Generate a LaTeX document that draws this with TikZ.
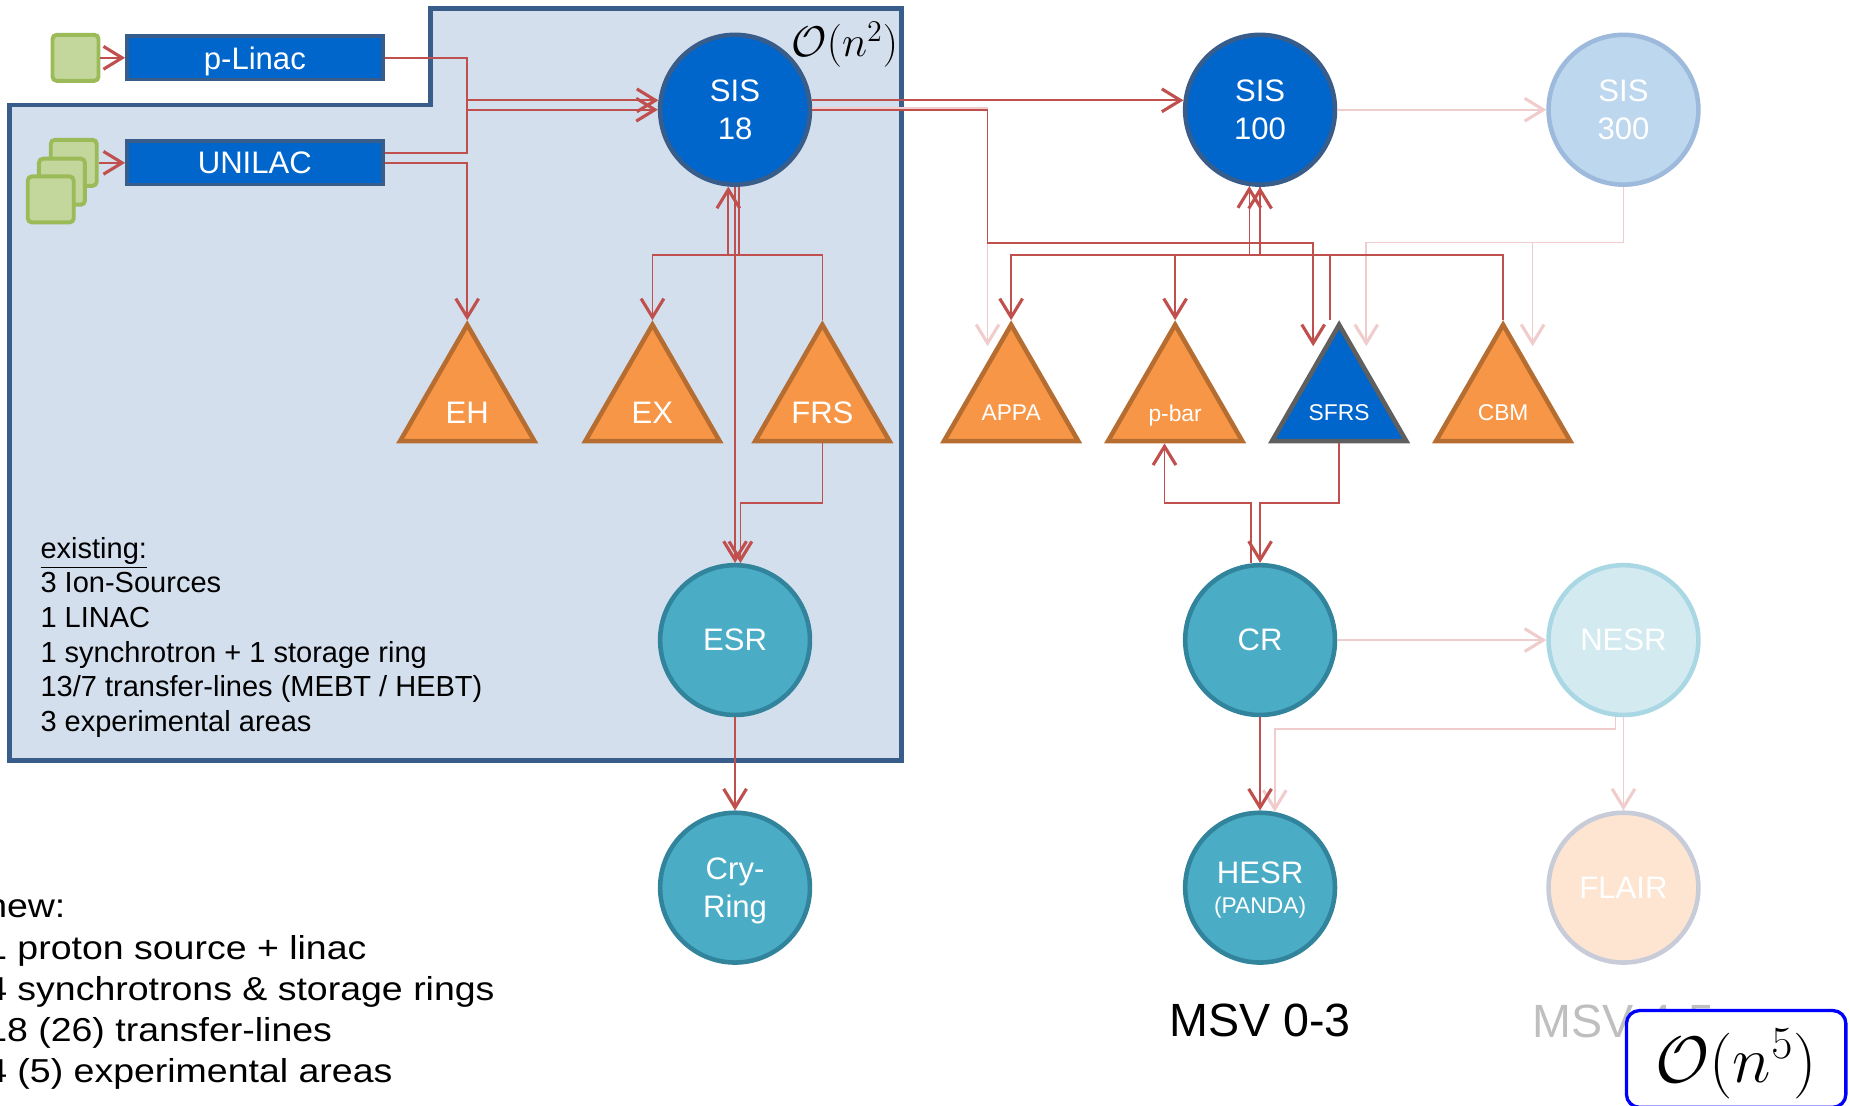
\RequirePackage{fix-cm}
\documentclass[tikz,border=0pt]{standalone}
\usepackage[no-math]{fontspec}
\setmainfont{Liberation Sans}
\newfontfamily\widefont[FakeStretch=1.13]{Liberation Sans}
\usepackage{tikz}
\usetikzlibrary{arrows.meta,shapes.geometric,positioning,calc}

\definecolor{beam}{HTML}{C0504D}
\definecolor{beamnext}{HTML}{F0CDCC}
\definecolor{gsiblue}{HTML}{0066CC}
\definecolor{gsiedge}{HTML}{385D8A}
\definecolor{oldarea}{HTML}{D4DFEE}
\definecolor{storefill}{HTML}{4BACC6}
\definecolor{storeedge}{HTML}{31849B}
\definecolor{expfill}{HTML}{F79646}
\definecolor{expedge}{HTML}{B66D31}
\definecolor{srcfill}{HTML}{C3D69B}
\definecolor{srcedge}{HTML}{9BBB59}
\definecolor{nextblue}{HTML}{BDD7EE}
\definecolor{nextblueedge}{HTML}{9DB9DC}
\definecolor{nextteal}{HTML}{D3EAF1}
\definecolor{nexttealedge}{HTML}{A9D8E4}
\definecolor{nextpeach}{HTML}{FDE5D1}
\definecolor{nextpeachedge}{HTML}{C8CCD9}
\definecolor{sfrsedge}{HTML}{5F5F5F}
\definecolor{msvgrey}{HTML}{BFBFBF}

\newcommand{\ringfont}{\fontsize{15}{18.7}\selectfont}
\newcommand{\tinyfont}{\fontsize{11}{13}\selectfont}

\begin{document}
\begin{tikzpicture}[x=0.02cm, y=-0.02cm,
  >={Straight Barb[length=9pt,width=11pt,line width=1.5pt]},
  every node/.style={font=\ringfont, text=white, align=center},
  ionsrc/.style={rectangle, rounded corners=0.07cm, draw=srcedge, fill=srcfill,
    line width=1.9pt, minimum size=0.78cm, inner sep=0pt},
  linacbox/.style={rectangle, draw=gsiedge, fill=gsiblue, line width=1.7pt,
    minimum width=4.34cm, minimum height=0.74cm, inner sep=0pt, text depth=0pt},
  storering/.style={circle, draw=storeedge, fill=storefill, line width=2.2pt,
    minimum size=2.54cm, inner sep=0pt, text depth=-2.8pt},
  synchro/.style={storering, draw=gsiedge, fill=gsiblue},
  exparea/.style={regular polygon, regular polygon sides=3, minimum size=2.63cm,
    inner sep=0pt, draw=expedge, fill=expfill, line width=2.2pt,
    label={[yshift=-0.18cm, text depth=0pt]center:#1}},
  beamline/.style={draw=beam, line width=0.8pt},
  nextline/.style={draw=beamnext, line width=0.8pt},
  listtext/.style={text=black, align=left, inner sep=0pt, anchor=north west}]
\useasboundingbox (0,0) rectangle (1568,937);
\clip (0,0) rectangle (1568,937);

% existing facility
\draw[draw=gsiedge, fill=oldarea, line width=2.4pt]
  (365,7) -- (764,7) -- (764,644.5) -- (8,644.5) -- (8,89) -- (365,89) -- cycle;

\node[ionsrc] (srcp) at (64,49) {};
\node[ionsrc] (srcA) at (62.5,138) {};
\node[ionsrc] (srcB) at (52.5,154) {};
\node[ionsrc] (srcC) at (43,169) {};
\node[linacbox] (plinac) at (216,49) {p-Linac};
\node[linacbox] (unilac) at (216,138) {UNILAC};

\node[synchro] (sis18) at (623,93) {SIS\\18};
\node[synchro] (sis100) at (1068,93) {SIS\\100};
\node[synchro, draw=nextblueedge, fill=nextblue] (sis300) at (1376,93) {SIS\\300};

\node[exparea=EH] (eh) at (396,341) {};
\node[exparea=EX] (ex) at (553,341) {};
\node[exparea=FRS] (frs) at (697,341) {};
\node[exparea={\tinyfont APPA}] (appa) at (857,341) {};
\node[exparea={\tinyfont p-bar}] (pbar) at (996,341) {};
\node[exparea={\tinyfont SFRS}, draw=sfrsedge, fill=gsiblue] (sfrs) at (1135,341) {};
\node[exparea={\tinyfont CBM}] (cbm) at (1274,341) {};

\node[storering] (esr) at (623,542.5) {ESR};
\node[storering, below=1.58cm of esr] (cryring) {Cry-\\Ring};
\node[storering] (cr) at (1068,542.5) {CR};
\node[storering, below=1.58cm of cr] (hesr) {HESR\\[-4.5pt]{\tinyfont (PANDA)}};
\node[storering, draw=nexttealedge, fill=nextteal] (nesr) at (1376,542.5) {NESR};
\node[storering, draw=nextpeachedge, fill=nextpeach, below=1.58cm of nesr] (flair) {FLAIR};

\node[listtext, font=\fontsize{14}{16.7}\selectfont] (existing) at (34,455)
  {\underline{existing:}\\3 Ion-Sources\\1 LINAC\\1 synchrotron + 1 storage ring\\
   13/7 transfer-lines (MEBT / HEBT)\\3 experimental areas};
\node[listtext, font=\widefont\fontsize{16}{19.85}\selectfont] (newlist) at (-12,762.5)
  {new:\\1 proton source + linac\\4 synchrotrons \& storage rings\\
   18 (26) transfer-lines\\4 (5) experimental areas};

\node[text=black, font=\fontsize{20.7}{25}\selectfont] (costold) at (716,38) {$\mathcal{O}(n^2)$};
\node[text=black, font=\fontsize{22.5}{27}\selectfont] (msvnow) at (1068,865) {MSV 0-3};
\node[text=msvgrey, font=\fontsize{22.5}{27}\selectfont] (msvnext) at (1376,866) {MSV 4-5};

% bus heights
\coordinate (busup) at (0,216);
\coordinate (bushi) at (0,206);
\coordinate (buslow) at (0,426.5);
\coordinate (busnesr) at (0,618);
\coordinate (colsfrs) at (837,0);
\coordinate (pbarfoot) at ([xshift=-0.18cm]pbar.south);

% future lines
\draw[nextline,->] ([yshift=0.03cm]sis18.east) -| ($(appa.corner 1)+(-20,22)$);
\draw[nextline,->] (sis100.east) -- (sis300.west);
\draw[nextline,->] (sis300.south) |- ($(sfrs.corner 1)+(23,-66)$) -- ($(sfrs.corner 1)+(23,22)$);
\draw[nextline,->] (sis300.south) |- ($(cbm.corner 1)+(25,-66)$) -- ($(cbm.corner 1)+(25,22)$);
\draw[nextline,->] (cr.east) -- (nesr.west);
\draw[nextline,->] (nesr.264) |- (busnesr -| hesr.79) -- (hesr.79);
\draw[nextline,->] (nesr.south) -- (flair.north);

% injectors
\draw[beamline,->] (srcp) -- (plinac);
\draw[beamline,->] (srcA) -- (unilac);
\draw[beamline,->] (plinac.east) -| (eh.corner 1 |- sis18.west) -- (sis18.west);
\draw[beamline,->] ([yshift=0.17cm]unilac.east) -| (eh.corner 1 |- sis18.173) -- (sis18.173);
\draw[beamline,->] (unilac.east) -| (eh.corner 1);

% SIS18
\draw[beamline,->] (sis18.7) -- (sis100.173);
\draw[beamline,->] (sis18.east) -| (colsfrs |- bushi) -| ($(sfrs.corner 1)+(-22,22)$);
\draw[beamline,->] (sis18.273) |- (busup -| ex.corner 1) -- (ex.corner 1);
\draw[beamline,->] (frs.corner 1) |- (busup -| sis18.265) -- (sis18.265);
\draw[beamline,->] (sis18.south) -- (esr.north);
\draw[beamline,->] (frs.south) |- (buslow -| esr.86) -- (esr.86);
\draw[beamline,->] (esr.south) -- (cryring.north);

% SIS100
\draw[beamline,->] (sis100.262) -- (busup -| sis100.262) -| (appa.corner 1);
\draw[beamline,->] (sis100.south) -- (busup -| sis100.south) -| (pbar.corner 1);
\draw[beamline,->] ([xshift=-0.16cm]sfrs.corner 1) |- (busup -| sis100.262) -- (sis100.262);
\draw[beamline,->] (cbm.corner 1) |- (busup -| sis100.south) -- (sis100.south);

% CR
\draw[beamline,->] (cr.97) |- (buslow -| pbarfoot) -- (pbarfoot);
\draw[beamline,->] (sfrs.south) |- (buslow -| cr.north) -- (cr.north);
\draw[beamline,->] (cr.south) -- (hesr.north);

\node[draw=blue, line width=1.6pt, rounded corners=0.22cm, fill=white, text=black,
  minimum width=3.72cm, minimum height=1.64cm, text height=27pt, text depth=4.5pt,
  inner sep=0pt, font=\fontsize{31.7}{38}\selectfont] (costnew) at (1471.5,897.5) {$\mathcal{O}(n^5)$};
\end{tikzpicture}
\end{document}
